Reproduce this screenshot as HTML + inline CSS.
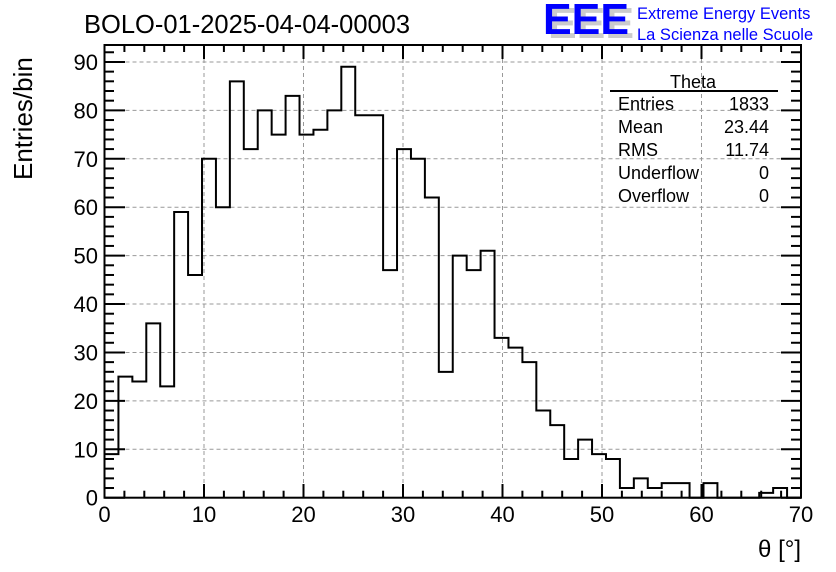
<!DOCTYPE html>
<html><head><meta charset="utf-8"><style>
body{margin:0;background:#fff;}
svg{display:block;font-family:"Liberation Sans",sans-serif;}
</style></head><body>
<svg id="chart" width="836" height="572" viewBox="0 0 836 572">
<rect x="0" y="0" width="836" height="572" fill="#fff"/>
<g id="grid"></g>
<path id="hist" fill="none" stroke="#000" stroke-width="2"/>
<rect x="104.5" y="45" width="696.5" height="452.7" fill="none" stroke="#000" stroke-width="2"/>
<g id="axes"></g>
<text x="84" y="33" font-size="25.5">BOLO-01-2025-04-04-00003</text>
<g>
<text x="548" y="38" font-size="44" font-weight="bold" fill="#ccc" textLength="86" lengthAdjust="spacingAndGlyphs">EEE</text>
<text x="543" y="34" font-size="44" font-weight="bold" fill="#0000ff" textLength="86" lengthAdjust="spacingAndGlyphs">EEE</text>
<text x="637" y="19" font-size="16.5" fill="#0000ff">Extreme Energy Events</text>
<text x="637" y="40" font-size="16.5" fill="#0000ff">La Scienza nelle Scuole</text>
</g>
<g font-size="18">
<text x="693" y="88" text-anchor="middle">Theta</text>
<line x1="610" y1="91" x2="778" y2="91" stroke="#000" stroke-width="2"/>
<text x="618" y="110">Entries</text><text x="769" y="110" text-anchor="end">1833</text>
<text x="618" y="133">Mean</text><text x="769" y="133" text-anchor="end">23.44</text>
<text x="618" y="156">RMS</text><text x="769" y="156" text-anchor="end">11.74</text>
<text x="618" y="179">Underflow</text><text x="769" y="179" text-anchor="end">0</text>
<text x="618" y="202">Overflow</text><text x="769" y="202" text-anchor="end">0</text>
</g>
<text x="801" y="557" font-size="24" text-anchor="end">θ [°]</text>
<text transform="translate(32,180) rotate(-90)" font-size="26">Entries/bin</text>
</svg>
<script>
const binCounts = [9,25,24,36,23,59,46,70,60,86,72,80,75,83,75,76,80,89,79,79,47,72,70,62,26,50,47,51,33,31,28,18,15,8,12,9,8,2,4,2,3,3,0,3,0,0,0,1,2,0];
const xTicks = [0,10,20,30,40,50,60,70];
const yTicks = [0,10,20,30,40,50,60,70,80,90];
const xMin = 0, xMax = 70, binWidth = 1.4;
const yMax = 93.5;
const X = v => 104.5 + (v - xMin) / (xMax - xMin) * 696.5;
const Y = v => 497.7 - v / yMax * 452.7;
const NS = 'http://www.w3.org/2000/svg';
function mk(tag, attrs, parent){const e=document.createElementNS(NS,tag);for(const k in attrs)e.setAttribute(k,attrs[k]);parent.appendChild(e);return e;}
const grid = document.getElementById('grid'), axes = document.getElementById('axes');
xTicks.forEach(t=>{
  if(t>xMin&&t<xMax){const l=mk('line',{x1:X(t),x2:X(t),y1:45,y2:497.7,stroke:'#999','stroke-width':1,'stroke-dasharray':'4,3'},grid);
  
  }
  const tk=mk('line',{x1:X(t),x2:X(t),y1:497.7,y2:484,stroke:'#000','stroke-width':2},axes);
  
  
  const tk2=mk('line',{x1:X(t),x2:X(t),y1:45,y2:59,stroke:'#000','stroke-width':2},axes);
  
  
  const tx=mk('text',{x:X(t),y:522,'font-size':22,'text-anchor':'middle'},axes);tx.textContent=t;
  
  
});
for(let v=xMin;v<=xMax;v+=2){const h=(v%10===0)?0:7;if(!h)continue;
  mk('line',{x1:X(v),x2:X(v),y1:497.7,y2:497.7-h,stroke:'#000','stroke-width':2},axes);
  mk('line',{x1:X(v),x2:X(v),y1:45,y2:45+h,stroke:'#000','stroke-width':2},axes);}
yTicks.forEach(t=>{
  if(t>0){const l=mk('line',{x1:104.5,x2:801,y1:Y(t),y2:Y(t),stroke:'#999','stroke-width':1,'stroke-dasharray':'4,3'},grid);
  
  }
  mk('line',{x1:104.5,x2:125,y1:Y(t),y2:Y(t),stroke:'#000','stroke-width':2},axes);
  mk('line',{x1:781,x2:801,y1:Y(t),y2:Y(t),stroke:'#000','stroke-width':2},axes);
  const tx=mk('text',{x:98,y:Y(t)+8,'font-size':22,'text-anchor':'end'},axes);tx.textContent=t;
  
  
});
for(let v=0;v<=yMax;v+=2){if(v%10===0)continue;
  mk('line',{x1:104.5,x2:114,y1:Y(v),y2:Y(v),stroke:'#000','stroke-width':2},axes);
  mk('line',{x1:791,x2:801,y1:Y(v),y2:Y(v),stroke:'#000','stroke-width':2},axes);}
let d='M'+X(0)+','+Y(0);
binCounts.forEach((c,i)=>{d+=' L'+X(i*binWidth)+','+Y(c)+' L'+X((i+1)*binWidth)+','+Y(c);});
d+=' L'+X(binCounts.length*binWidth)+','+Y(0);
document.getElementById('hist').setAttribute('d',d);
</script>
</body></html>
